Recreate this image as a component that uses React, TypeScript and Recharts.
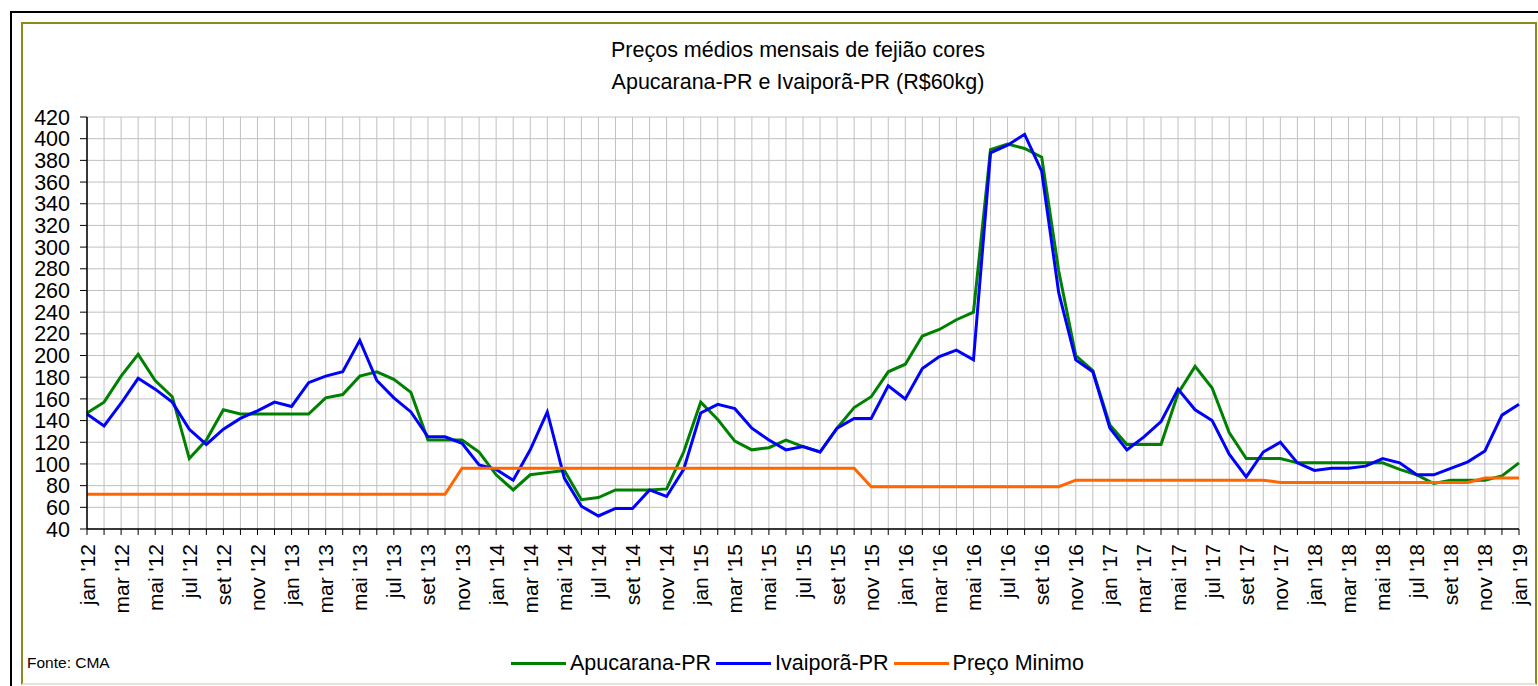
import React from "react";
import { LineChart, Line, XAxis, YAxis, CartesianGrid } from "recharts";

const monthNames = ["jan", "fev", "mar", "abr", "mai", "jun", "jul", "ago", "set", "out", "nov", "dez"];
const years = ["12", "13", "14", "15", "16", "17", "18"];
const months = [...years.flatMap((y) => monthNames.map((m) => `${m} '${y}`)), "jan '19"];

// R$/60kg
const apucarana = [
  147, 157, 181, 201, 177, 162, 105, 122, 150, 146, 146, 146,
  146, 146, 161, 164, 181, 185, 178, 166, 122, 122, 122, 111,
  90, 76, 90, 92, 94, 67, 69, 76, 76, 76, 77, 111,
  157, 141, 121, 113, 115, 122, 116, 111, 133, 152, 162, 185,
  192, 218, 224, 233, 240, 390, 395, 391, 383, 278, 200, 186,
  136, 118, 118, 118, 165, 190, 170, 129, 105, 105, 105, 101,
  101, 101, 101, 101, 101, 95, 90, 82, 85, 85, 85, 89,
  101,
];
const ivaipora = [
  146, 135, 156, 179, 169, 157, 132, 118, 132, 142, 149, 157,
  153, 175, 181, 185, 214, 177, 161, 148, 125, 125, 119, 99,
  95, 85, 113, 148, 87, 61, 52, 59, 59, 76, 70, 95,
  147, 155, 151, 133, 122, 113, 116, 111, 133, 142, 142, 172,
  160, 188, 199, 205, 196, 387, 394, 404, 370, 258, 196, 185,
  133, 113, 125, 139, 169, 150, 140, 109, 88, 111, 120, 101,
  94, 96, 96, 98, 105, 101, 90, 90, 96, 102, 112, 145,
  155,
];
const precoMinimo = [
  72, 72, 72, 72, 72, 72, 72, 72, 72, 72, 72, 72,
  72, 72, 72, 72, 72, 72, 72, 72, 72, 72, 96, 96,
  96, 96, 96, 96, 96, 96, 96, 96, 96, 96, 96, 96,
  96, 96, 96, 96, 96, 96, 96, 96, 96, 96, 79, 79,
  79, 79, 79, 79, 79, 79, 79, 79, 79, 79, 85, 85,
  85, 85, 85, 85, 85, 85, 85, 85, 85, 85, 83, 83,
  83, 83, 83, 83, 83, 83, 83, 83, 83, 83, 87, 87,
  87,
];
const yTicks = [40, 60, 80, 100, 120, 140, 160, 180, 200, 220, 240, 260, 280, 300, 320, 340, 360, 380, 400, 420];

const series = [
  { key: "apucarana", name: "Apucarana-PR", color: "#008000" },
  { key: "ivaipora", name: "Ivaiporã-PR", color: "#0000FF" },
  { key: "preco", name: "Preço Minimo", color: "#FF6600" },
];

const data = months.map((month, i) => ({
  month,
  apucarana: apucarana[i],
  ivaipora: ivaipora[i],
  preco: precoMinimo[i],
}));

const font = '"Liberation Sans", Arial, sans-serif';

const XTick = (props: any) => {
  const { x, y, payload } = props;
  const idx = months.indexOf(payload.value);
  if (idx % 2 !== 0) return null;
  const ty = y + 7;
  return (
    <text
      x={x}
      y={ty}
      transform={`rotate(-90 ${x} ${ty})`}
      textAnchor="end"
      dominantBaseline="central"
      fontSize={21}
      fontFamily={font}
      fill="#000"
    >
      {payload.value}
    </text>
  );
};

export default function App() {
  return (
    <div style={{ position: "absolute", left: 0, top: 0, width: 1538, height: 686, background: "#fff", fontFamily: font, overflow: "hidden" }}>
      <div style={{ position: "absolute", left: 10, top: 11, width: 1540, height: 700, border: "2px solid #000", boxSizing: "border-box" }} />
      <div
        style={{
          position: "absolute",
          left: 21,
          top: 22,
          width: 1516,
          height: 663,
          borderTop: "2px solid #8a8a1e",
          borderLeft: "2px solid #8a8a1e",
          borderRight: "2px solid #8a8a1e",
          borderBottom: "2px solid #e4e4d0",
          boxSizing: "border-box",
        }}
      />
      <div style={{ position: "absolute", left: 548, top: 34, width: 500, textAlign: "center", fontSize: 21.5, lineHeight: "32px", color: "#000" }}>
        <div>Preços médios mensais de fejião cores</div>
        <div>Apucarana-PR e Ivaiporã-PR (R$60kg)</div>
      </div>
      <div style={{ position: "absolute", left: 0, top: 0 }}>
        <LineChart width={1538} height={686} data={data} margin={{ top: 117, right: 19, left: 27, bottom: 77 }}>
          <CartesianGrid stroke="#c0c0c0" strokeWidth={1} />
          <XAxis
            dataKey="month"
            interval={0}
            height={80}
            tickSize={6}
            tick={<XTick />}
            axisLine={{ stroke: "#000", strokeWidth: 1.5 }}
            tickLine={{ stroke: "#000" }}
          />
          <YAxis
            domain={[40, 420]}
            ticks={yTicks}
            interval={0}
            width={60}
            tickSize={7}
            tickMargin={10}
            axisLine={{ stroke: "#000", strokeWidth: 1.5 }}
            tickLine={{ stroke: "#000" }}
            tick={{ fontSize: 21.5, fontFamily: font, fill: "#000" }}
          />
          {series.map((s) => (
            <Line
              key={s.key}
              type="linear"
              dataKey={s.key}
              name={s.name}
              stroke={s.color}
              strokeWidth={3}
              dot={false}
              isAnimationActive={false}
            />
          ))}
        </LineChart>
      </div>
      <div style={{ position: "absolute", left: 27, top: 654, fontSize: 15.5, color: "#000" }}>Fonte: CMA</div>
      <div style={{ position: "absolute", left: 0, top: 650, width: 1600, display: "flex", justifyContent: "center", alignItems: "center", fontSize: 21.5, lineHeight: "26px" }}>
        {series.map((s) => (
          <div key={s.key} style={{ display: "flex", alignItems: "center", marginRight: 5 }}>
            <span style={{ display: "inline-block", width: 55, height: 3, background: s.color, marginRight: 4 }} />
            <span>{s.name}</span>
          </div>
        ))}
      </div>
    </div>
  );
}
